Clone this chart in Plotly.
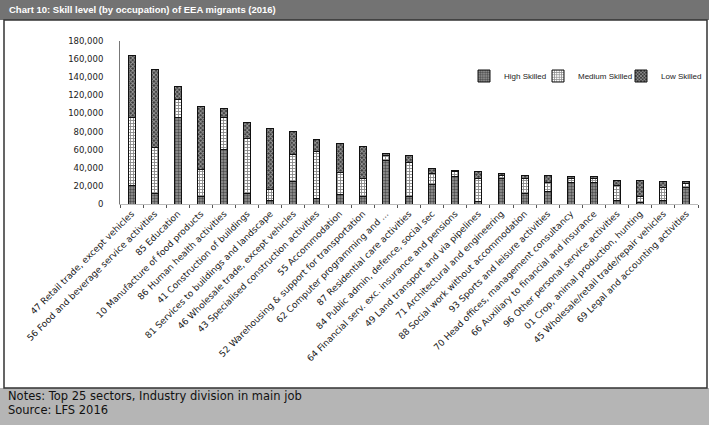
import plotly.graph_objects as go

categories = [
    "47 Retail trade, except vehicles",
    "56 Food and beverage service activities",
    "85 Education",
    "10 Manufacture of food products",
    "86 Human health activities",
    "41 Construction of buildings",
    "81 Services to buildings and landscape",
    "46 Wholesale trade, except vehicles",
    "43 Specialised construction activities",
    "55 Accommodation",
    "52 Warehousing & support for transportation",
    "62 Computer programming and ...",
    "87 Residential care activities",
    "84 Public admin, defence, social sec",
    "64 Financial serv. exc. insurance and pensions",
    "49 Land transport and via pipelines",
    "71 Architectural and engineering",
    "88 Social work without accommodation",
    "93 Sports and leisure activities",
    "70 Head offices, management consultancy",
    "66 Auxiliary to financial and insurance",
    "96 Other personal service activities",
    "01 Crop, animal production, hunting",
    "45 Wholesale/retail trade/repair vehicles",
    "69 Legal and accounting activities",
]
high_skilled = [20000, 12000, 95000, 8000, 60000, 12000, 4000, 25000, 6000, 10000,
                8000, 48000, 8000, 22000, 30000, 3000, 28000, 12000, 14000, 24000,
                24000, 4000, 2000, 4000, 18000]
medium_skilled = [75000, 50000, 20000, 30000, 35000, 60000, 12000, 30000, 52000, 25000,
                  20000, 6000, 38000, 12000, 6000, 25000, 4000, 16000, 10000, 4000,
                  4500, 16000, 6000, 14000, 5000]
low_skilled = [69500, 86700, 14500, 70200, 10600, 17800, 67500, 24800, 12700, 32000,
               35300, 2000, 8000, 5400, 1500, 7700, 1900, 4000, 8000, 2000,
               1500, 6500, 18500, 6600, 1600]
y_ticks = [0, 20000, 40000, 60000, 80000, 100000, 120000, 140000, 160000, 180000]

W, H = 709, 425
L, R, T, B = 120, 11, 41, 221
pw, ph = W - L - R, H - T - B

def px(x):
    return (x - L) / pw

def py(y):
    return (H - B - y) / ph

fig = go.Figure()
series = [
    ("High Skilled", high_skilled, "#9a9a9a", "#000000", ".", "legend", 464),
    ("Medium Skilled", medium_skilled, "#ffffff", "#111111", "+", "legend2", 538),
    ("Low Skilled", low_skilled, "#3a3a3a", "#ffffff", "x", "legend3", 621),
]
font = "DejaVu Sans, Verdana, sans-serif"
legend_font = dict(family="Liberation Sans, Arial, sans-serif", size=8, color="#222222")
legends = {}
for name, vals, bg, fg, shape, lg, lx in series:
    fig.add_trace(go.Bar(
        name=name, x=categories, y=vals, legend=lg,
        marker=dict(color=bg, line=dict(color="#111111", width=1),
                    pattern=dict(shape=shape, fgcolor=fg, bgcolor=bg, size=3, solidity=0.5)),
    ))
    legends[lg] = dict(orientation="h", x=px(lx), y=py(76), xanchor="left", yanchor="middle",
                       itemwidth=30, font=legend_font, bgcolor="rgba(0,0,0,0)")

fig.update_layout(
    width=W, height=H,
    margin=dict(l=L, r=R, t=T, b=B, autoexpand=False),
    barmode="stack", bargap=0.7,
    paper_bgcolor="white", plot_bgcolor="white",
    font=dict(family=font, size=9, color="#222222"),
    showlegend=True,
    xaxis=dict(tickangle=-45, tickfont=dict(size=9, color="#222222"), automargin=False,
               showline=True, linecolor="#bbbbbb", linewidth=1,
               ticks="outside", ticklen=3, tickcolor="#555555", tickson="boundaries",
               showgrid=False),
    yaxis=dict(range=[0, 180000], tickvals=y_ticks, tickformat=",d", automargin=False,
               tickfont=dict(size=8.5, color="#222222"),
               showline=True, linecolor="#777777", linewidth=1,
               showgrid=False, zeroline=False, ticks="", ticklabelstandoff=14),
    **legends,
)

# header band
fig.add_shape(type="rect", xref="paper", yref="paper",
              x0=px(0), x1=px(W), y0=py(0), y1=py(20),
              fillcolor="#737373", line=dict(width=0), layer="below")
# footer band
fig.add_shape(type="rect", xref="paper", yref="paper",
              x0=px(0), x1=px(W), y0=py(388), y1=py(H),
              fillcolor="#b5b5b5", line=dict(width=0), layer="below")
# frame
fig.add_shape(type="rect", xref="paper", yref="paper",
              x0=px(4), x1=px(W - 2), y0=py(20), y1=py(388),
              fillcolor="rgba(0,0,0,0)", line=dict(color="#333333", width=1.5))

fig.add_annotation(text="<b>Chart 10: Skill level (by occupation) of EEA migrants (2016)</b>",
                   xref="paper", yref="paper", x=px(7), y=py(10),
                   xanchor="left", yanchor="middle", showarrow=False,
                   font=dict(family="Liberation Sans, Arial, sans-serif", size=9.5, color="white"))
fig.add_annotation(text="Notes: Top 25 sectors, Industry division in main job",
                   xref="paper", yref="paper", x=px(6), y=py(396),
                   xanchor="left", yanchor="middle", showarrow=False,
                   font=dict(family=font, size=11.5, color="#111111"))
fig.add_annotation(text="Source: LFS 2016",
                   xref="paper", yref="paper", x=px(6), y=py(410),
                   xanchor="left", yanchor="middle", showarrow=False,
                   font=dict(family=font, size=11.5, color="#111111"))

fig.write_html("out.html", post_script="document.body.style.margin='0';",
               config={"displayModeBar": False})
